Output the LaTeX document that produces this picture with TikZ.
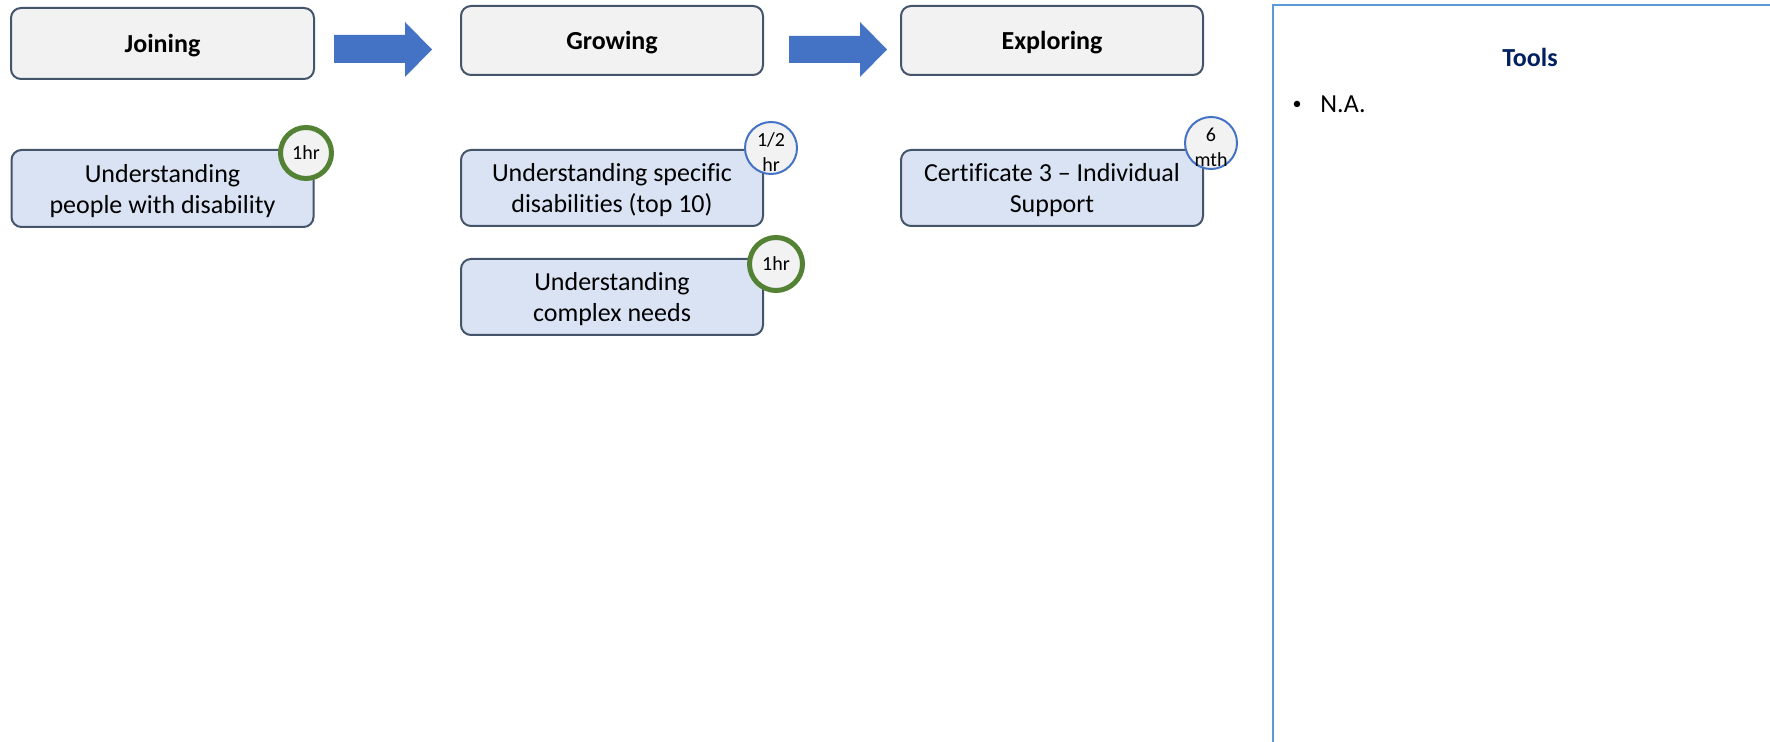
\documentclass[tikz,border=0pt]{standalone}
\usepackage{fontspec}
\setmainfont[Ligatures=NoCommon]{Carlito}
\definecolor{hdrborder}{HTML}{44546A}
\definecolor{hdrfill}{HTML}{F2F2F2}
\definecolor{itemfill}{HTML}{DAE3F3}
\definecolor{arrowblue}{HTML}{4472C4}
\definecolor{badgegreen}{HTML}{548235}
\definecolor{badgeblue}{HTML}{4472C4}
\definecolor{panelblue}{HTML}{5B9BD5}
\definecolor{navy}{HTML}{002060}
\begin{document}
\begin{tikzpicture}[x=0.5pt,y=-0.5pt,
  hdr/.style={draw=hdrborder, line width=1pt, fill=hdrfill, rounded corners=5pt,
    minimum width=151pt, minimum height=34.5pt, inner sep=0pt,
    text height=9.5pt, text depth=0pt,
    font=\fontsize{13}{15.5}\selectfont\bfseries},
  item/.style={draw=hdrborder, line width=1pt, fill=itemfill, rounded corners=5pt,
    minimum width=151pt, minimum height=38pt, inner sep=0pt},
  itemtxt/.style={inner sep=0pt, align=center, font=\fontsize{13}{15.5}\selectfont},
  gbadge/.style={circle, draw=badgegreen, line width=2.5pt, fill=hdrfill,
    inner sep=0pt},
  bbadge/.style={circle, draw=badgeblue, line width=1pt, fill=hdrfill,
    minimum size=26pt, inner sep=0pt},
  badgetxt/.style={inner sep=0pt, align=center, font=\fontsize{10}{12.5}\selectfont},
  flow/.style={fill=arrowblue},
  body/.style={inner sep=0pt, font=\fontsize{13}{15.5}\selectfont}]
\useasboundingbox (0,0) rectangle (1770,742);
\fill[white] (0,0) rectangle (1770,742);

% header boxes
\node[hdr, minimum width=151.5pt, minimum height=35.5pt] (join) at (162.5,43.5) {Joining};
\node[hdr] (grow) at (612,40.5) {Growing};
\node[hdr] (expl) at (1052,40.5) {Exploring};

% block arrows
\fill[flow] (334,35) -- (405,35) -- (405,22) -- (432,49.5) -- (405,77) -- (405,63) -- (334,63) -- cycle;
\fill[flow] (789,36) -- (860,36) -- (860,22) -- (887,49.5) -- (860,77) -- (860,63) -- (789,63) -- cycle;

% items
\node[item, minimum height=38.5pt] (i1) at (162.5,188.5) {};
\node[itemtxt] (i1t) at ([yshift=-1.25pt]i1.center) {Understanding\\people with disability};
\node[item] (i2) at (612,188) {};
\node[itemtxt] (i2t) at ([yshift=-1.25pt]i2.center) {Understanding specific\\disabilities (top 10)};
\node[item] (i3) at (612,297) {};
\node[itemtxt] (i3t) at ([yshift=-1.25pt]i3.center) {Understanding\\complex needs};
\node[item] (i4) at (1052,188) {};
\node[itemtxt] (i4t) at ([yshift=-1.25pt]i4.center) {Certificate 3 – Individual\\Support};

% badges
\node[gbadge, minimum size=25.5pt] (b1) at (306,153) {};
\node[badgetxt] (b1t) at (b1) {1hr};
\node[bbadge] (b2) at (771,148) {};
\node[badgetxt] (b2t) at ([yshift=-2pt]b2.center) {1/2\\hr};
\node[gbadge, minimum size=26.5pt] (b3) at (776,264) {};
\node[badgetxt] (b3t) at (b3) {1hr};
\node[bbadge] (b4) at (1211,143) {};
\node[badgetxt] (b4t) at ([yshift=-2pt]b4.center) {6\\mth};

% tools panel
\draw[panelblue, line width=1.4pt] (1273,5) rectangle (1800,780);
\node[body, text=navy, font=\fontsize{13}{15.5}\selectfont\bfseries] (tools) at (1530,57) {Tools};
\node[body, font=\fontsize{9}{11}\selectfont] (bul) at (1297,105) {\textbullet};
\node[body, anchor=base west] (na) at (1320,113) {N.A.};
\end{tikzpicture}
\end{document}
